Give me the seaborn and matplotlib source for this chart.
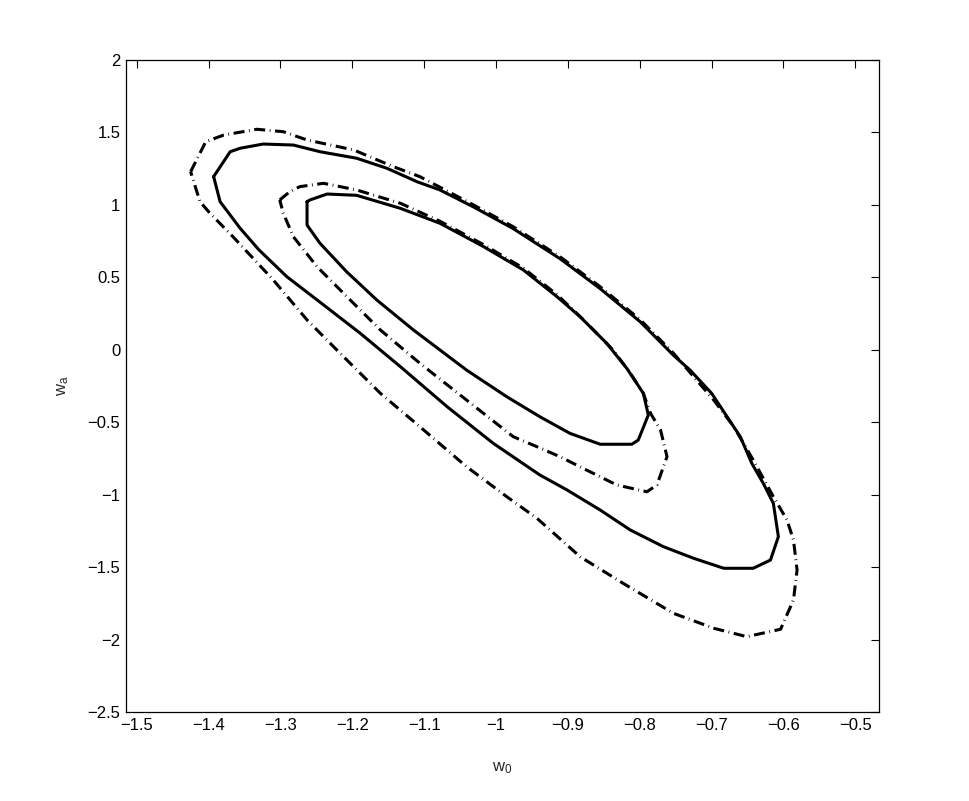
import numpy as np
import pandas as pd
import matplotlib
matplotlib.use("Agg")
import matplotlib.pyplot as plt
import seaborn as sns

# contour traces (w0, wa)
outer_dashdot_w0 = [-1.425, -1.404, -1.379, -1.333, -1.296, -1.263, -1.198, -1.143, -1.106, -1.031,
                    -0.976, -0.911, -0.855, -0.799, -0.753, -0.697, -0.669, -0.642, -0.614, -0.595,
                    -0.586, -0.581, -0.586, -0.604, -0.651, -0.697, -0.753, -0.823, -0.883, -0.943,
                    -0.985, -1.041, -1.106, -1.161, -1.217, -1.263, -1.310, -1.366, -1.398, -1.412]
outer_dashdot_wa = [1.229, 1.436, 1.482, 1.522, 1.505, 1.448, 1.379, 1.264, 1.195, 0.999,
                    0.849, 0.642, 0.435, 0.206, -0.024, -0.347, -0.531, -0.761, -1.014, -1.175,
                    -1.313, -1.520, -1.727, -1.929, -1.980, -1.922, -1.819, -1.612, -1.428, -1.163,
                    -1.014, -0.807, -0.531, -0.300, -0.024, 0.206, 0.482, 0.780, 0.942, 1.022]

outer_solid_w0 = [-1.393, -1.370, -1.356, -1.324, -1.282, -1.245, -1.194, -1.152, -1.110, -1.078,
                  -1.031, -0.976, -0.911, -0.855, -0.799, -0.753, -0.730, -0.700, -0.660, -0.644,
                  -0.628, -0.614, -0.607, -0.618, -0.642, -0.683, -0.725, -0.767, -0.813, -0.855,
                  -0.901, -0.939, -1.004, -1.068, -1.133, -1.189, -1.249, -1.291, -1.330, -1.356, -1.384]
outer_solid_wa = [1.195, 1.367, 1.391, 1.420, 1.413, 1.367, 1.322, 1.253, 1.160, 1.103,
                  0.985, 0.836, 0.629, 0.422, 0.192, -0.038, -0.140, -0.300, -0.600, -0.784,
                  -0.922, -1.060, -1.290, -1.451, -1.508, -1.508, -1.439, -1.359, -1.244, -1.106,
                  -0.968, -0.864, -0.645, -0.393, -0.117, 0.114, 0.344, 0.504, 0.690, 0.838, 1.022]

inner_dashdot_w0 = [-1.301, -1.287, -1.273, -1.240, -1.194, -1.133, -1.078, -1.017, -0.962, -0.915,
                    -0.878, -0.837, -0.813, -0.795, -0.785, -0.771, -0.762, -0.767, -0.776, -0.790,
                    -0.832, -0.874, -0.911, -0.943, -0.976, -1.041, -1.106, -1.161, -1.203, -1.249,
                    -1.282, -1.296]
inner_dashdot_wa = [1.034, 1.091, 1.126, 1.149, 1.103, 1.011, 0.887, 0.725, 0.564, 0.380,
                    0.206, -0.002, -0.162, -0.300, -0.438, -0.554, -0.738, -0.807, -0.933, -0.980,
                    -0.933, -0.830, -0.738, -0.669, -0.600, -0.347, -0.093, 0.137, 0.344, 0.573,
                    0.780, 0.942]

inner_solid_w0 = [-1.263, -1.259, -1.235, -1.194, -1.133, -1.078, -1.017, -0.962, -0.915, -0.883,
                  -0.846, -0.818, -0.795, -0.788, -0.802, -0.811, -0.855, -0.897, -0.939, -0.985,
                  -1.041, -1.115, -1.166, -1.208, -1.245, -1.263]
inner_solid_wa = [1.022, 1.034, 1.075, 1.066, 0.976, 0.873, 0.711, 0.551, 0.366, 0.228,
                  0.045, -0.128, -0.300, -0.450, -0.623, -0.652, -0.652, -0.577, -0.462, -0.324,
                  -0.140, 0.137, 0.344, 0.539, 0.735, 0.861]

x_ticks = [-1.5, -1.4, -1.3, -1.2, -1.1, -1.0, -0.9, -0.8, -0.7, -0.6, -0.5]
x_tick_labels = ["\u22121.5", "\u22121.4", "\u22121.3", "\u22121.2", "\u22121.1", "\u22121",
                 "\u22120.9", "\u22120.8", "\u22120.7", "\u22120.6", "\u22120.5"]
y_ticks = [-2.5, -2, -1.5, -1, -0.5, 0, 0.5, 1, 1.5, 2]
y_tick_labels = ["\u22122.5", "\u22122", "\u22121.5", "\u22121", "\u22120.5", "0", "0.5", "1", "1.5", "2"]

sns.set_style("white")
plt.rcParams["font.family"] = ["Liberation Sans", "DejaVu Sans"]
plt.rcParams["mathtext.default"] = "regular"

fig = plt.figure(figsize=(9.69, 8.01), dpi=100)
ax = fig.add_axes([0.1300, 0.1111, 0.7771, 0.8140])

dashdot = (0, (3.6, 1.5, 0.25, 1.5))
curves = [
    (outer_dashdot_w0, outer_dashdot_wa, dashdot),
    (outer_solid_w0, outer_solid_wa, "-"),
    (inner_dashdot_w0, inner_dashdot_wa, dashdot),
    (inner_solid_w0, inner_solid_wa, "-"),
]
for xs, ys, ls in curves:
    df = pd.DataFrame({"w0": xs + xs[:1], "wa": ys + ys[:1]})
    sns.lineplot(data=df, x="w0", y="wa", sort=False, estimator=None,
                 color="black", linewidth=2.2, linestyle=ls, ax=ax)

ax.set_xlim(-1.515, -0.467)
ax.set_ylim(-2.5, 2)
ax.set_xticks(x_ticks)
ax.set_xticklabels(x_tick_labels)
ax.set_yticks(y_ticks)
ax.set_yticklabels(y_tick_labels)
ax.tick_params(direction="in", length=6, width=0.8, top=True, right=True,
               labelsize=12, colors="black", pad=4)
for s in ax.spines.values():
    s.set_visible(True)
    s.set_color("black")
    s.set_linewidth(0.9)

ax.set_xlabel("w$_0$", fontsize=12, labelpad=20)
ax.set_ylabel("w$_a$", fontsize=12, labelpad=12)

fig.savefig("out.png", dpi=100)
